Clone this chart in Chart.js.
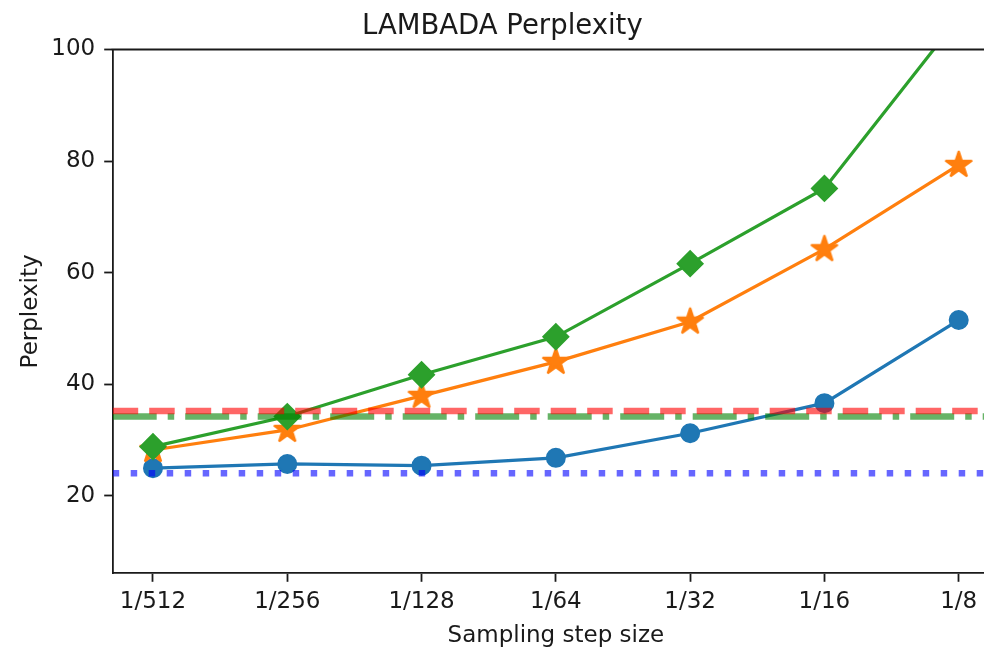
<!DOCTYPE html>
<html>
<head>
<meta charset="utf-8">
<script src="https://cdn.jsdelivr.net/npm/chart.js@4.4.1/dist/chart.umd.min.js"></script>
<style>
  html, body { margin: 0; padding: 0; background: #fff; overflow: hidden; }
  #wrap { width: 984px; height: 648px; overflow: hidden; }
</style>
</head>
<body>
<div id="wrap"><canvas id="myChart" width="1015" height="648"></canvas></div>
<script>
const stepLabels = ['1/512', '1/256', '1/128', '1/64', '1/32', '1/16', '1/8'];
const circleSeries = [24.95, 25.7, 25.4, 26.8, 31.2, 36.6, 51.5];
const starSeries = [28.2, 31.8, 37.9, 44.0, 51.2, 64.2, 79.3];
const diamondSeries = [28.8, 34.2, 41.7, 48.5, 61.6, 75.1, 105.7];
const dashedRef = 35.2;
const dashDotRef = 34.2;
const dottedRef = 24.05;
const yTicks = [20, 40, 60, 80, 100];

const X_MIN = -0.3, X_MAX = stepLabels.length - 1 + 0.3;
const Y_MIN = 6.1, Y_MAX = 100;
const FONT = 'DejaVu Sans';
const INK = '#1a1a1a';

// filled five-point star, used as an image marker
function starMarker(outer, color) {
  const c = document.createElement('canvas');
  const size = Math.ceil(outer * 2 + 4);
  c.width = size; c.height = size;
  const g = c.getContext('2d');
  const inner = outer * 0.381966;
  g.beginPath();
  for (let i = 0; i < 10; i++) {
    const r = i % 2 ? inner : outer;
    const a = -Math.PI / 2 + i * Math.PI / 5;
    g.lineTo(size / 2 + r * Math.cos(a), size / 2 + r * Math.sin(a));
  }
  g.closePath();
  g.fillStyle = color;
  g.fill();
  g.lineWidth = 2;
  g.lineJoin = 'bevel';
  g.strokeStyle = color;
  g.stroke();
  return c;
}

const toPoints = (vals) => vals.map((v, i) => ({ x: i, y: v }));
const across = (v) => [{ x: X_MIN, y: v }, { x: X_MAX, y: v }];

function refLine(v, color, dash) {
  return {
    data: across(v),
    borderColor: color,
    borderWidth: 6.5,
    borderDash: dash,
    pointRadius: 0,
    clip: 0
  };
}

function series(vals, color, style, radius) {
  return {
    data: toPoints(vals),
    borderColor: color,
    backgroundColor: color,
    borderWidth: 3.2,
    pointStyle: style,
    pointRadius: radius,
    pointBorderWidth: 2,
    pointBorderColor: color,
    pointBackgroundColor: color,
    tension: 0,
    clip: 0
  };
}

// top and right spines (left and bottom come from the axis borders)
const spines = {
  id: 'spines',
  afterDatasetsDraw(chart) {
    const { ctx, chartArea: a } = chart;
    ctx.save();
    ctx.strokeStyle = INK;
    ctx.lineWidth = 1.8;
    ctx.beginPath();
    ctx.moveTo(a.left - 0.9, a.top);
    ctx.lineTo(a.right, a.top);
    ctx.lineTo(a.right, a.bottom);
    ctx.stroke();
    ctx.restore();
  }
};

const data = {
  datasets: [
    refLine(dashedRef, 'rgba(255,0,0,0.6)', [25.5, 11]),
    refLine(dashDotRef, 'rgba(0,128,0,0.6)', [44, 11, 6.5, 11]),
    refLine(dottedRef, 'rgba(0,0,255,0.6)', [6.5, 11.5]),
    series(diamondSeries, '#2ca02c', 'rectRot', 12.5),
    series(starSeries, '#ff7f0e', starMarker(14, '#ff7f0e'), 14),
    series(circleSeries, '#1f77b4', 'circle', 9)
  ]
};

const config = {
  type: 'line',
  data: data,
  options: {
    responsive: false,
    animation: false,
    layout: { padding: { left: 0, right: 10.4, top: 0, bottom: 0 } },
    plugins: {
      legend: { display: false },
      tooltip: { enabled: false },
      title: {
        display: true,
        text: 'LAMBADA Perplexity',
        color: INK,
        font: { family: FONT, size: 27.5, weight: 'normal' },
        padding: { top: 10, bottom: 6.5 }
      }
    },
    scales: {
      x: {
        type: 'linear',
        min: X_MIN,
        max: X_MAX,
        afterBuildTicks: (s) => { s.ticks = stepLabels.map((_, i) => ({ value: i })); },
        afterFit: (s) => { s.height = 74.7; },
        ticks: {
          callback: (v) => stepLabels[v],
          color: INK,
          font: { family: FONT, size: 23 },
          padding: 6,
          maxRotation: 0,
          autoSkip: false
        },
        grid: { drawOnChartArea: false, drawTicks: true, tickLength: 8.5, tickWidth: 1.8, tickColor: INK },
        border: { color: INK, width: 1.8 },
        title: {
          display: true,
          text: 'Sampling step size',
          color: INK,
          font: { family: FONT, size: 23 },
          padding: { top: 0, bottom: -1.5 }
        }
      },
      y: {
        min: Y_MIN,
        max: Y_MAX,
        afterBuildTicks: (s) => { s.ticks = yTicks.map((v) => ({ value: v })); },
        afterFit: (s) => { s.width = 112.7; },
        ticks: {
          color: INK,
          font: { family: FONT, size: 23 },
          padding: 9
        },
        grid: { drawOnChartArea: false, drawTicks: true, tickLength: 8.5, tickWidth: 1.8, tickColor: INK },
        border: { color: INK, width: 1.8 },
        title: {
          display: true,
          text: 'Perplexity',
          color: INK,
          font: { family: FONT, size: 23 },
          padding: { top: 17, bottom: 0 }
        }
      }
    }
  },
  plugins: [spines]
};

const myChart = new Chart(document.getElementById('myChart'), config);
</script>
</body>
</html>
